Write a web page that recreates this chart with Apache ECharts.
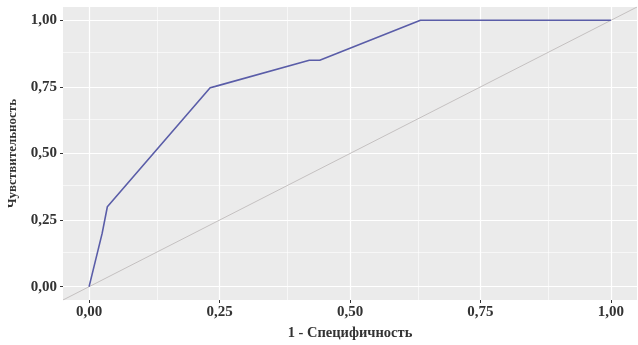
<!DOCTYPE html>
<html>
<head>
<meta charset="utf-8">
<script src="https://cdn.jsdelivr.net/npm/echarts@6/dist/echarts.min.js"></script>
<style>
  html, body { margin: 0; padding: 0; background: #fff; }
  #main { width: 638px; height: 345px; }
</style>
</head>
<body>
<div id="main"></div>
<script>
// ROC-кривая
var fpr = [0, 0.025, 0.035, 0.232, 0.242, 0.422, 0.442, 0.635, 1.0];
var tpr = [0, 0.2, 0.3, 0.747, 0.752, 0.85, 0.85, 1.0, 1.0];
var diagonal = [-0.05, 1.05];
var majorTicks = [0, 0.25, 0.5, 0.75, 1];
var minorTicks = [0.125, 0.375, 0.625, 0.875];

var chart = echarts.init(document.getElementById('main'));

function fmt(v) {
  return v.toFixed(2).replace('.', ',');
}

function gridLines(axis, vals, width) {
  return vals.map(function (v) {
    var o = {};
    o[axis] = v;
    o.lineStyle = { color: '#ffffff', width: width, type: 'solid' };
    return o;
  });
}

var labelStyle = {
  color: '#333333',
  fontFamily: 'Liberation Serif',
  fontSize: 15,
  fontWeight: 'bold'
};

function axisOpt(name, gap, nameSize, margin) {
  return {
    type: 'value', min: -0.05, max: 1.05,
    name: name, nameLocation: 'middle', nameGap: gap,
    nameTextStyle: Object.assign({}, labelStyle, { fontSize: nameSize }),
    axisLine: { show: false, onZero: false },
    axisTick: { show: true, length: 3, customValues: majorTicks, lineStyle: { color: '#333333', width: 1 } },
    axisLabel: Object.assign({ customValues: majorTicks, margin: margin, formatter: fmt }, labelStyle),
    splitLine: { show: false }
  };
}

var option = {
  animation: false,
  grid: {
    left: 63, right: 1, top: 7, bottom: 45,
    outerBoundsMode: 'none',
    show: true, backgroundColor: '#EBEBEB', borderWidth: 0
  },
  xAxis: axisOpt('1 - Специфичность', 26, 14.5, 5),
  yAxis: axisOpt('Чувствительность', 44, 13, 6),
  series: [
    {
      type: 'line', data: [], silent: true, z: 1,
      markLine: {
        silent: true, symbol: 'none', label: { show: false }, z: 1,
        data: gridLines('xAxis', minorTicks, 0.6)
          .concat(gridLines('yAxis', minorTicks, 0.6))
          .concat(gridLines('xAxis', majorTicks, 1.2))
          .concat(gridLines('yAxis', majorTicks, 1.2))
      }
    },
    {
      type: 'line', showSymbol: false, silent: true, z: 3,
      data: [[diagonal[0], diagonal[0]], [diagonal[1], diagonal[1]]],
      lineStyle: { color: '#C4C0C0', width: 1 }
    },
    {
      type: 'line', showSymbol: false, z: 4,
      data: fpr.map(function (x, i) { return [x, tpr[i]]; }),
      lineStyle: { color: '#5A5DA8', width: 1.6 }
    }
  ]
};

chart.setOption(option);
</script>
</body>
</html>
